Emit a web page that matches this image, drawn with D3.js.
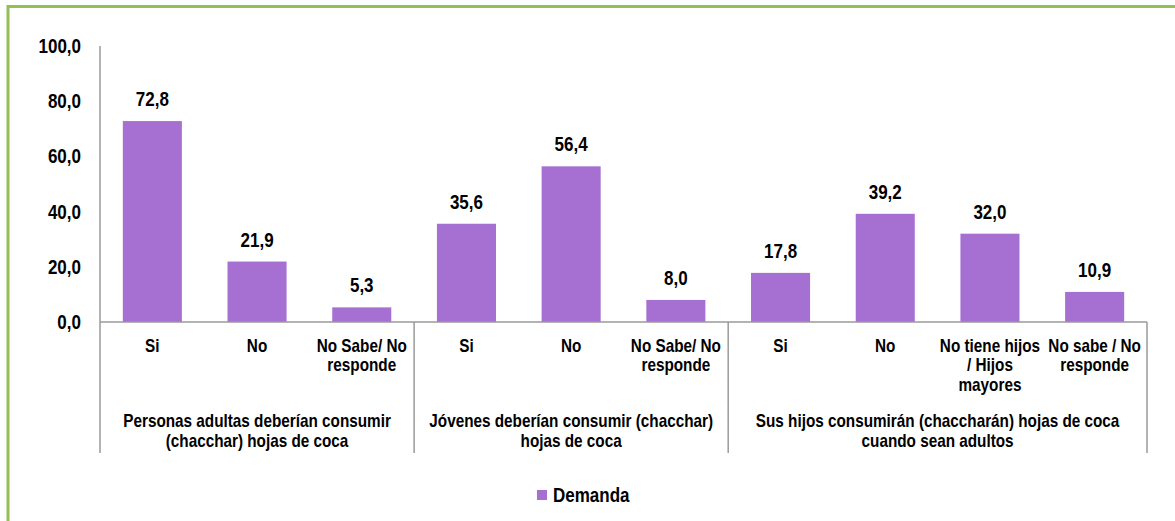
<!DOCTYPE html>
<html>
<head>
<meta charset="utf-8">
<script src="https://cdn.jsdelivr.net/npm/d3@7/dist/d3.min.js"></script>
<style>
  body { margin: 0; background: #fff; }
  svg text { font-family: "Liberation Sans", Arial, sans-serif; font-weight: bold; fill: #000; }
</style>
</head>
<body>
<div id="chart"></div>
<script>
// categories (each label split into its lines), group of each, and values
const categoryLines = [
  ["Si"], ["No"], ["No Sabe/ No", "responde"],
  ["Si"], ["No"], ["No Sabe/ No", "responde"],
  ["Si"], ["No"], ["No tiene hijos", "/ Hijos", "mayores"], ["No sabe / No", "responde"]
];
const categoryGroup = [0, 0, 0, 1, 1, 1, 2, 2, 2, 2];
const values = [72.8, 21.9, 5.3, 35.6, 56.4, 8.0, 17.8, 39.2, 32.0, 10.9];
const groupLines = [
  ["Personas adultas deberían consumir", "(chacchar) hojas de coca"],
  ["Jóvenes deberían consumir (chacchar)", "hojas de coca"],
  ["Sus hijos consumirán (chaccharán) hojas de coca", "cuando sean adultos"]
];
const yTicks = [0, 20, 40, 60, 80, 100];
const seriesName = "Demanda";

const W = 1175, H = 521;
const purple = "#a66fd2";
const axisColor = "#9a9a9a";
const narrow = 0.85; // no Arial Narrow here, squeeze the text instead
const fmt = v => v.toFixed(1).replace(".", ",");

const svg = d3.select("#chart").append("svg")
  .attr("width", W).attr("height", H);

// green frame (runs off the right and bottom edges)
svg.append("rect")
  .attr("x", 8).attr("y", 6.5)
  .attr("width", W + 20).attr("height", H + 20)
  .attr("fill", "none")
  .attr("stroke", "#93bf55")
  .attr("stroke-width", 3);

const x = d3.scaleBand()
  .domain(d3.range(values.length))
  .range([100, 1147])
  .paddingInner(0.436)
  .paddingOuter(0.218);

const y = d3.scaleLinear().domain([0, 100]).range([322, 46]);

const bottom = 453;

// places a squeezed text at (px, py), one tspan per line
function label(sel, px, py, lines, size, anchor, lineH) {
  const t = sel.append("text")
    .attr("transform", `translate(${px},${py}) scale(${narrow},1)`)
    .attr("text-anchor", anchor)
    .style("font-size", size + "px");
  t.selectAll("tspan")
    .data(lines).enter().append("tspan")
    .attr("x", 0)
    .attr("y", (d, k) => k * (lineH || 0))
    .text(d => d);
  return t;
}

// y tick labels
const tickG = svg.append("g");
yTicks.forEach(d => label(tickG, 81, y(d) + 7, [fmt(d)], 20, "end"));

// bars
svg.append("g").selectAll("rect")
  .data(values).enter().append("rect")
  .attr("x", (d, i) => x(i))
  .attr("y", d => y(d))
  .attr("width", x.bandwidth())
  .attr("height", d => y(0) - y(d))
  .attr("fill", purple);

// value labels
const valG = svg.append("g");
values.forEach((d, i) =>
  label(valG, x(i) + x.bandwidth() / 2, y(d) - 15, [fmt(d)], 20, "middle"));

// axes lines
const step = x.step();
const x0 = x.range()[0], x1 = x.range()[1];
svg.append("line")
  .attr("x1", x0).attr("x2", x1)
  .attr("y1", y(0)).attr("y2", y(0))
  .attr("stroke", axisColor).attr("stroke-width", 1.5);
svg.append("line")
  .attr("x1", x0).attr("x2", x0)
  .attr("y1", y(100)).attr("y2", bottom)
  .attr("stroke", axisColor).attr("stroke-width", 1.5);

// group separators
const groupIdx = d3.range(groupLines.length);
const groupStart = g => x0 + step * categoryGroup.indexOf(g);
const groupEnd = g => x0 + step * (categoryGroup.lastIndexOf(g) + 1);
svg.append("g").selectAll("line")
  .data(groupIdx).enter().append("line")
  .attr("x1", g => groupEnd(g)).attr("x2", g => groupEnd(g))
  .attr("y1", y(0)).attr("y2", bottom)
  .attr("stroke", axisColor).attr("stroke-width", 1.5);

// category labels
const catG = svg.append("g");
categoryLines.forEach((lines, i) =>
  label(catG, x(i) + x.bandwidth() / 2, 352, lines, 18, "middle", 19.5));

// group labels
const grpG = svg.append("g");
groupLines.forEach((lines, g) =>
  label(grpG, (groupStart(g) + groupEnd(g)) / 2, 427, lines, 18, "middle", 20));

// legend
const legend = svg.append("g").attr("transform", "translate(537,490)");
legend.append("rect")
  .attr("width", 10).attr("height", 10)
  .attr("fill", purple);
label(legend, 16, 11.5, [seriesName], 20, "start");
</script>
</body>
</html>
